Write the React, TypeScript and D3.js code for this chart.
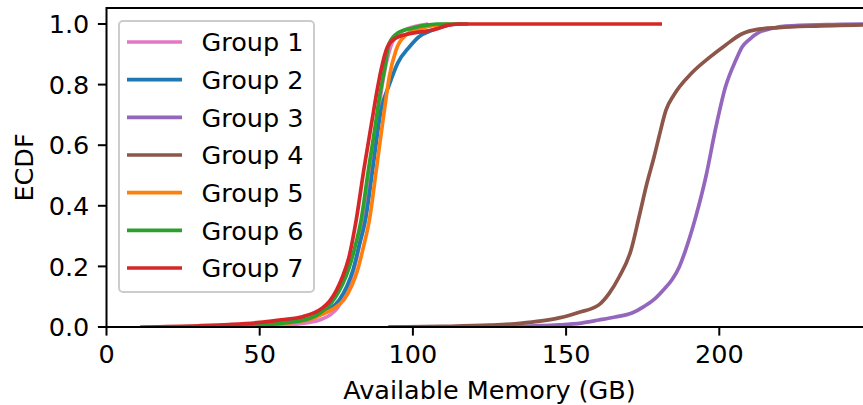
import React from "react";
import * as d3 from "d3";

// ECDF of available memory: [GB, fraction]
const group1: [number, number][] = [
  [30, 0], [50, 0.003], [60, 0.008], [66, 0.015], [70, 0.025], [73, 0.04], [75.5, 0.065],
  [77.5, 0.1], [79.5, 0.15], [81.5, 0.22], [83.9, 0.353], [86.5, 0.53],
  [88.8, 0.716], [90.5, 0.83], [92, 0.9], [93.5, 0.945], [96, 0.972], [100, 0.99], [105, 1.0],
];
const group2: [number, number][] = [
  [20, 0], [45, 0.006], [55, 0.013], [62, 0.02], [67, 0.03], [70, 0.043], [73, 0.06],
  [76, 0.09], [78.5, 0.135], [80.5, 0.19], [82.5, 0.27], [84.5, 0.353], [87, 0.53],
  [89.6, 0.716], [92.3, 0.8], [95, 0.87], [98.9, 0.925], [102, 0.958], [106.4, 0.98],
  [112, 0.997], [116, 1.0],
];
const group3: [number, number][] = [
  [92, 0], [120, 0.001], [140, 0.004], [147.7, 0.007], [155, 0.013], [160.7, 0.023],
  [166, 0.033], [171.5, 0.046], [175.5, 0.068], [179.3, 0.096], [182, 0.125], [184.5, 0.155],
  [187, 0.2], [189, 0.254], [192.3, 0.363], [195.6, 0.495], [198.9, 0.66], [202, 0.792],
  [205.4, 0.881], [207.5, 0.925], [209.6, 0.947], [212.9, 0.972], [217, 0.985],
  [221.6, 0.993], [235, 0.998], [250, 1.0],
];
const group4: [number, number][] = [
  [92, 0], [110, 0.002], [125, 0.006], [135, 0.012], [142, 0.02], [147.7, 0.03], [154, 0.048],
  [160.7, 0.073], [164, 0.11], [167.3, 0.165], [171.2, 0.254], [173.8, 0.363], [176.4, 0.475],
  [178.7, 0.561], [180.3, 0.627], [182.6, 0.716], [185.2, 0.766], [191, 0.838], [196.6, 0.888],
  [202, 0.93], [207.3, 0.967], [212.9, 0.983], [219.4, 0.988], [230, 0.993], [250, 0.998],
];
const group5: [number, number][] = [
  [25, 0], [45, 0.004], [55, 0.01], [62, 0.017], [67, 0.027], [70, 0.04], [74, 0.06],
  [77.5, 0.09], [80, 0.135], [82, 0.19], [84, 0.27], [85.8, 0.353], [88.2, 0.53],
  [90.7, 0.716], [92.3, 0.826], [94.5, 0.914], [97.8, 0.964], [103, 0.987], [108.6, 0.997],
  [112, 1.0],
];
const group6: [number, number][] = [
  [25, 0], [45, 0.004], [55, 0.01], [62, 0.018], [66, 0.027], [69.5, 0.045], [72, 0.065],
  [74.5, 0.095], [77, 0.14], [79, 0.19], [81, 0.26], [83.1, 0.353], [85.5, 0.52],
  [88, 0.683], [88.8, 0.74], [90.7, 0.848], [92.3, 0.937], [95, 0.97], [100, 0.987],
  [105, 0.997], [108, 1.0], [118, 1.0],
];
const group7: [number, number][] = [
  [11, 0], [30, 0.004], [40, 0.008], [50, 0.015], [57, 0.024], [64, 0.034], [68, 0.048],
  [70.5, 0.063], [72.8, 0.085], [75, 0.12], [77, 0.165], [79, 0.225], [81.5, 0.353],
  [84, 0.52], [86.8, 0.69], [88.3, 0.78], [89.6, 0.848], [91.7, 0.925], [94.5, 0.954],
  [99.9, 0.97], [106.4, 0.98], [112, 0.997], [115, 1.0], [181.3, 1.0],
];

const groupNames = ["Group 1", "Group 2", "Group 3", "Group 4", "Group 5", "Group 6", "Group 7"];
const groupColors = ["#e377c2", "#1f77b4", "#9467bd", "#8c564b", "#ff7f0e", "#2ca02c", "#d62728"];
const groupData = [group1, group2, group3, group4, group5, group6, group7];

const xTicks = [0, 50, 100, 150, 200];
const yTicks = [0, 0.2, 0.4, 0.6, 0.8, 1.0];

const W = 863;
const H = 405;
const FONT = "DejaVu Sans, sans-serif";
const FS = 25.5;

export default function App() {
  const left = 106.5;
  const right = 872.5; // axes run past the cropped figure edge
  const top = 8;
  const bottom = 327;

  const x = d3.scaleLinear().domain([0, 250]).range([left, right]);
  const y = d3.scaleLinear().domain([0, 1.0528]).range([bottom, top]);

  const line = d3
    .line<[number, number]>()
    .x(d => x(d[0]))
    .y(d => y(d[1]))
    .curve(d3.curveMonotoneX);

  const tickLen = 8.6;
  const pad = 8.6;

  // legend layout
  const legX = 119;
  const legY = 21;
  const legW = 195;
  const legH = 271;
  const rowY = d3.scaleLinear().domain([0, 6]).range([42, 268]);

  return (
    <svg
      width={W}
      height={H}
      style={{ position: "absolute", left: 0, top: 0, background: "#fff" }}
      fontFamily={FONT}
    >
      <defs>
        <clipPath id="plot">
          <rect x={left} y={top} width={right - left} height={bottom - top} />
        </clipPath>
      </defs>

      <g clipPath="url(#plot)">
        {groupData.map((d, i) => (
          <path
            key={groupNames[i]}
            d={line(d) || ""}
            fill="none"
            stroke={groupColors[i]}
            strokeWidth={3.7}
            strokeLinejoin="round"
          />
        ))}
      </g>

      {/* spines */}
      <rect x={left} y={top} width={right - left} height={bottom - top} fill="none" stroke="#000" strokeWidth={2} />

      {/* x axis */}
      {xTicks.map(t => (
        <g key={t}>
          <line x1={x(t)} x2={x(t)} y1={bottom} y2={bottom + tickLen} stroke="#000" strokeWidth={2} />
          <text x={x(t)} y={bottom + tickLen + pad + 0.729 * FS} fontSize={FS} textAnchor="middle">
            {t}
          </text>
        </g>
      ))}
      <text x={(left + right) / 2} y={399} fontSize={FS} textAnchor="middle">
        Available Memory (GB)
      </text>

      {/* y axis */}
      {yTicks.map(t => (
        <g key={t}>
          <line x1={left - tickLen} x2={left} y1={y(t)} y2={y(t)} stroke="#000" strokeWidth={2} />
          <text x={left - tickLen - pad} y={y(t) + 0.3645 * FS} fontSize={FS} textAnchor="end">
            {t.toFixed(1)}
          </text>
        </g>
      ))}
      <text
        transform={`translate(32.5, ${(top + bottom) / 2}) rotate(-90)`}
        fontSize={FS}
        textAnchor="middle"
      >
        ECDF
      </text>

      {/* legend */}
      <rect
        x={legX}
        y={legY}
        width={legW}
        height={legH}
        rx={4}
        fill="#fff"
        fillOpacity={0.8}
        stroke="#cccccc"
        strokeWidth={2}
      />
      {groupNames.map((name, i) => (
        <g key={name}>
          <line x1={127} x2={182} y1={rowY(i)} y2={rowY(i)} stroke={groupColors[i]} strokeWidth={3.7} />
          <text x={201.5} y={rowY(i) + 0.3645 * FS} fontSize={FS}>
            {name}
          </text>
        </g>
      ))}
    </svg>
  );
}
